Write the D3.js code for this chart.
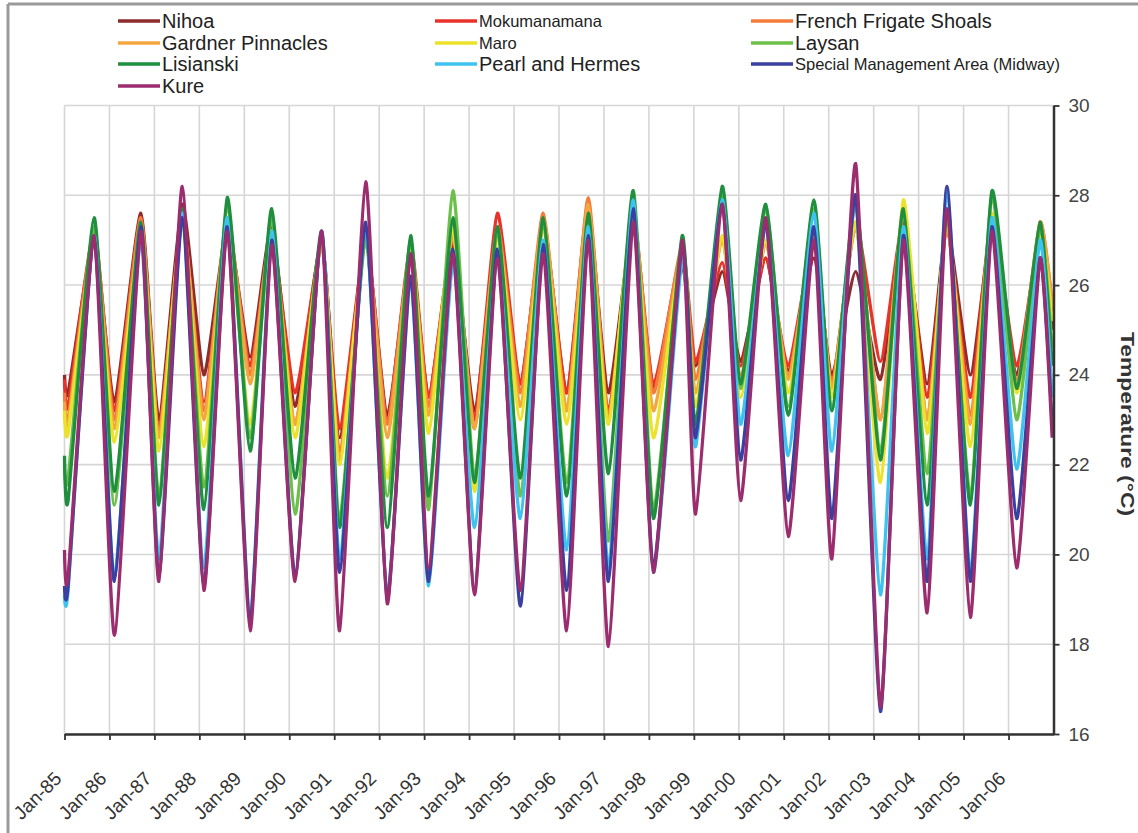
<!DOCTYPE html>
<html>
<head>
<meta charset="utf-8">
<script src="https://cdn.jsdelivr.net/npm/d3@7/dist/d3.min.js"></script>
<style>
  body { margin: 0; background: #fff; }
  svg { display: block; font-family: "Liberation Sans", Arial, sans-serif; }
</style>
</head>
<body>
<svg id="chart" width="1138" height="833"></svg>
<script>
// ---- data ----
const years = [1985, 1986, 1987, 1988, 1989, 1990, 1991, 1992, 1993, 1994, 1995,
               1996, 1997, 1998, 1999, 2000, 2001, 2002, 2003, 2004, 2005, 2006];
const tickLabels = ['Jan-85', 'Jan-86', 'Jan-87', 'Jan-88', 'Jan-89', 'Jan-90', 'Jan-91',
                    'Jan-92', 'Jan-93', 'Jan-94', 'Jan-95', 'Jan-96', 'Jan-97', 'Jan-98',
                    'Jan-99', 'Jan-00', 'Jan-01', 'Jan-02', 'Jan-03', 'Jan-04', 'Jan-05', 'Jan-06'];
const yTicks = [16, 18, 20, 22, 24, 26, 28, 30];

// fraction of the year where the winter low / summer high falls
const lowAt  = [0.08, 0.11, 0.10, 0.10, 0.13, 0.13, 0.12, 0.18, 0.10, 0.12, 0.14,
                0.17, 0.10, 0.10, 0.04, 0.04, 0.10, 0.07, 0.15, 0.19, 0.15, 0.18];
const highAt = [0.66, 0.70, 0.62, 0.62, 0.61, 0.72, 0.70, 0.70, 0.64, 0.63, 0.65,
                0.65, 0.65, 0.74, 0.63, 0.60, 0.67, 0.60, 0.66, 0.63, 0.63, 0.70];

const names = ['Nihoa', 'Mokumanamana', 'French Frigate Shoals', 'Gardner Pinnacles', 'Maro',
               'Laysan', 'Lisianski', 'Pearl and Hermes', 'Special Management Area (Midway)', 'Kure'];
const colors = ['#8e2b2b', '#e8332a', '#f47b3a', '#f4a640', '#ece22a',
                '#6cc04a', '#1f8f3f', '#3ec3f0', '#3a3fa0', '#9b2d6f'];
const startValues = [24.0, 23.9, 23.6, 23.4, 23.2, 22.0, 22.2, 19.1, 19.3, 20.1];
const endValues   = [25.0, 25.4, 25.6, 25.5, 25.2, 24.6, 24.2, 23.5, 22.9, 22.6];

const nihoaLow  = [23.6, 23.4, 23.0, 24.0, 24.4, 23.3, 22.6, 23.1, 23.5, 23.2, 23.8, 23.6, 23.6, 23.7, 24.2, 24.3, 24.1, 24.0, 23.9, 23.8, 24.0, 24.0];
const nihoaHigh = [27.0, 27.6, 27.8, 27.3, 27.3, 27.0, 27.0, 26.7, 26.9, 27.1, 27.3, 27.6, 27.4, 26.4, 26.3, 26.6, 26.6, 26.3, 27.2, 27.3, 27.2, 27.0];
const mokuLow   = [23.3, 23.2, 22.8, 23.4, 24.2, 23.6, 22.8, 23.0, 23.5, 23.0, 23.8, 23.6, 23.2, 23.8, 24.3, 24.2, 24.2, 23.8, 24.3, 23.5, 23.5, 24.2];
const mokuHigh  = [27.2, 27.5, 27.4, 27.3, 27.1, 26.9, 27.0, 26.9, 27.0, 27.6, 27.4, 27.8, 27.5, 26.8, 26.5, 26.6, 27.0, 27.4, 27.4, 27.2, 27.5, 27.2];
const ffsLow    = [23.0, 23.0, 22.7, 23.2, 24.0, 22.9, 22.3, 22.9, 23.3, 22.8, 23.6, 23.2, 23.1, 23.6, 23.9, 24.0, 24.0, 23.8, 23.0, 23.0, 23.1, 23.9];
const ffsHigh   = [27.2, 27.5, 27.4, 27.5, 27.2, 26.9, 27.0, 26.8, 27.1, 27.3, 27.6, 27.95, 27.6, 26.9, 27.0, 26.9, 27.0, 27.3, 27.5, 27.3, 27.5, 27.4];
const gardLow   = [22.9, 22.8, 22.6, 23.0, 23.8, 22.9, 22.1, 22.6, 23.1, 22.8, 23.3, 23.2, 23.0, 23.2, 23.6, 23.9, 23.9, 23.7, 23.0, 23.0, 22.9, 23.8];
const gardHigh  = [27.0, 27.3, 27.5, 27.4, 27.2, 26.9, 27.0, 26.8, 27.1, 27.2, 27.5, 27.8, 27.6, 26.8, 27.0, 26.9, 27.1, 27.3, 27.6, 27.3, 27.5, 27.4];
const maroLow   = [22.7, 22.5, 22.3, 22.4, 22.9, 22.6, 22.0, 21.7, 22.7, 21.4, 23.0, 22.9, 22.9, 22.6, 23.3, 23.5, 23.6, 23.5, 21.6, 22.7, 22.4, 23.6];
const maroHigh  = [27.0, 27.2, 27.4, 27.3, 27.2, 27.0, 27.0, 26.8, 27.3, 27.1, 27.2, 27.3, 27.7, 26.8, 27.1, 27.0, 27.2, 27.4, 27.9, 27.4, 27.6, 27.1];
const laysanLow  = [21.7, 21.1, 21.3, 21.5, 22.6, 20.9, 20.8, 21.3, 21.0, 21.7, 21.3, 21.6, 20.3, 21.0, 22.7, 23.7, 23.3, 23.2, 22.3, 21.8, 21.3, 23.0];
const laysanHigh = [27.3, 27.3, 27.6, 27.8, 27.5, 27.1, 27.0, 27.0, 28.1, 27.2, 27.4, 27.5, 28.1, 27.0, 28.0, 27.7, 27.7, 27.8, 27.6, 27.5, 28.0, 27.3];
const lisiLow   = [21.2, 21.4, 21.1, 21.0, 22.3, 21.7, 20.6, 20.6, 21.3, 21.6, 21.7, 21.3, 21.8, 20.8, 22.9, 23.8, 23.1, 23.2, 22.1, 21.1, 21.1, 23.7];
const lisiHigh  = [27.5, 27.4, 27.7, 27.95, 27.7, 27.2, 27.1, 27.1, 27.5, 27.3, 27.5, 27.6, 28.1, 27.1, 28.2, 27.8, 27.9, 27.95, 27.7, 27.6, 28.1, 27.4];
const pearlLow  = [19.2, 19.5, 19.9, 19.7, 18.6, 19.6, 19.9, 19.1, 19.3, 20.6, 20.8, 20.1, 19.7, 19.6, 22.4, 22.9, 22.2, 22.3, 19.1, 19.9, 19.6, 21.9];
const pearlHigh = [27.1, 27.0, 27.6, 27.5, 27.2, 27.2, 27.3, 26.1, 26.5, 26.6, 27.0, 27.3, 27.9, 26.6, 27.9, 27.3, 27.6, 27.9, 27.3, 28.1, 27.5, 27.0];
const midwayLow  = [19.3, 19.4, 19.5, 19.3, 18.5, 19.5, 19.6, 19.0, 19.4, 19.2, 18.85, 19.2, 19.4, 19.7, 22.6, 22.1, 21.2, 20.8, 16.5, 19.4, 19.4, 20.8];
const midwayHigh = [27.0, 27.3, 27.5, 27.3, 27.0, 27.2, 27.4, 26.2, 26.8, 26.8, 26.9, 27.1, 27.7, 26.9, 27.8, 27.4, 27.3, 28.0, 27.1, 28.2, 27.3, 26.6];
const kureLow   = [19.5, 18.2, 19.4, 19.2, 18.3, 19.4, 18.3, 18.9, 19.7, 19.1, 19.2, 18.3, 17.95, 19.6, 20.9, 21.2, 20.4, 19.9, 16.6, 18.7, 18.6, 19.7];
const kureHigh  = [27.1, 27.2, 28.2, 27.2, 26.9, 27.2, 28.3, 26.7, 26.7, 26.6, 26.7, 27.0, 27.4, 27.0, 27.8, 27.5, 27.0, 28.7, 27.0, 27.7, 27.2, 26.6];

const lows  = [nihoaLow, mokuLow, ffsLow, gardLow, maroLow, laysanLow, lisiLow, pearlLow, midwayLow, kureLow];
const highs = [nihoaHigh, mokuHigh, ffsHigh, gardHigh, maroHigh, laysanHigh, lisiHigh, pearlHigh, midwayHigh, kureHigh];

// series table: start, then low/high for each year, then end value
const series = names.map((name, s) => {
    const pts = [{ t: years[0], v: startValues[s] }];
    years.forEach((yr, i) => {
        pts.push({ t: yr + lowAt[i], v: lows[s][i] });
        pts.push({ t: yr + highAt[i], v: highs[s][i] });
    });
    pts.push({ t: years[years.length - 1] + 0.97, v: endValues[s] });
    return { name, color: colors[s], values: pts };
});

// ---- layout ----
const svg = d3.select('#chart');
const plot = { left: 64.5, right: 1053.5, top: 105.5, bottom: 734 };

const x = d3.scaleLinear()
    .domain([years[0], years[years.length - 1] + 1])
    .range([plot.left, plot.right]);

const y = d3.scaleLinear()
    .domain([16, 30])
    .range([plot.bottom, plot.top]);

// outer frame of the picture
svg.append('line').attr('x1', 8).attr('x2', 1138).attr('y1', 4).attr('y2', 4)
    .attr('stroke', '#9a9a9a').attr('stroke-width', 3);
svg.append('line').attr('x1', 8).attr('x2', 8).attr('y1', 4).attr('y2', 833)
    .attr('stroke', '#9a9a9a').attr('stroke-width', 3);

// Grid lines
const grid = svg.append('g').attr('class', 'grid');
grid.selectAll('.vgrid')
    .data(years)
    .enter()
    .append('line')
    .attr('x1', d => x(d)).attr('x2', d => x(d))
    .attr('y1', plot.top).attr('y2', plot.bottom)
    .attr('stroke', '#d6d6d6').attr('stroke-width', 1.6);
grid.selectAll('.hgrid')
    .data(yTicks)
    .enter()
    .append('line')
    .attr('x1', plot.left).attr('x2', plot.right)
    .attr('y1', d => y(d)).attr('y2', d => y(d))
    .attr('stroke', '#d6d6d6').attr('stroke-width', 1.6);

// Lines
const line = d3.line()
    .x(d => x(d.t))
    .y(d => y(d.v))
    .curve(d3.curveCardinal.tension(0.45));

svg.append('g')
    .selectAll('path')
    .data(series)
    .enter()
    .append('path')
    .attr('d', d => line(d.values))
    .attr('fill', 'none')
    .attr('stroke', d => d.color)
    .attr('stroke-width', 3.3)
    .attr('stroke-linejoin', 'round');

// X Axis
const xAxis = svg.append('g')
    .attr('transform', `translate(0,${plot.bottom})`)
    .call(d3.axisBottom(x).tickValues(years).tickSize(6).tickSizeOuter(0)
        .tickFormat((d, i) => tickLabels[i]));
xAxis.select('.domain').attr('stroke', '#333').attr('stroke-width', 2.5);
xAxis.selectAll('.tick line').attr('stroke', '#333').attr('stroke-width', 1.8);
xAxis.selectAll('.tick text')
    .attr('font-size', '19px')
    .attr('fill', '#333')
    .attr('text-anchor', 'end')
    .attr('transform', 'translate(-7,41) rotate(-45)')
    .attr('dy', '0.35em')
    .attr('y', 0);

// Y Axis (right side)
const yAxis = svg.append('g')
    .attr('transform', `translate(${plot.right},0)`)
    .call(d3.axisRight(y).tickValues(yTicks).tickSize(6).tickSizeOuter(0));
yAxis.select('.domain').attr('stroke', '#333').attr('stroke-width', 2.5);
yAxis.selectAll('.tick line').attr('stroke', '#333').attr('stroke-width', 1.8);
yAxis.selectAll('.tick text')
    .attr('x', 15)
    .attr('font-size', '19px')
    .attr('fill', '#444');

// Axis label
svg.append('text')
    .attr('transform', 'translate(1121,424) rotate(90)')
    .attr('text-anchor', 'middle')
    .attr('font-size', '18px')
    .attr('font-weight', 'bold')
    .attr('fill', '#333')
    .attr('textLength', 184)
    .attr('lengthAdjust', 'spacingAndGlyphs')
    .text('Temperature (°C)');

// Legend: 3 columns, row-major order
const legendCols = [118, 435, 751];
const legendRows = [21, 43, 64, 86];
const smallNames = ['Mokumanamana', 'Maro', 'Special Management Area (Midway)'];
const legend = svg.append('g').attr('class', 'legend');
series.forEach((d, i) => {
    const cx = legendCols[i % 3];
    const cy = legendRows[Math.floor(i / 3)];
    const small = smallNames.includes(d.name);
    legend.append('line')
        .attr('x1', cx).attr('x2', cx + 42)
        .attr('y1', cy).attr('y2', cy)
        .attr('stroke', d.color).attr('stroke-width', 3.5);
    legend.append('text')
        .attr('x', cx + 44)
        .attr('y', cy)
        .attr('dy', '0.35em')
        .attr('font-size', small ? '16.5px' : '20px')
        .attr('fill', '#222')
        .text(d.name);
});
</script>
</body>
</html>
